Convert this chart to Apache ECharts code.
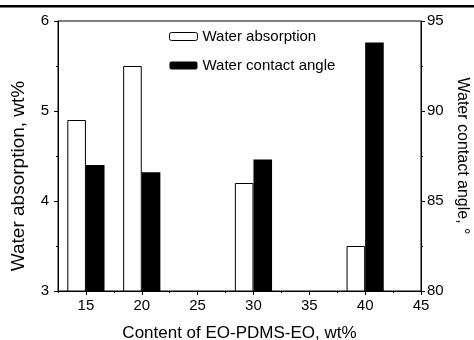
<!DOCTYPE html>
<html>
<head>
<meta charset="utf-8">
<script src="https://cdn.jsdelivr.net/npm/echarts@6/dist/echarts.min.js"></script>
<style>
  html, body { margin: 0; padding: 0; background: #fff; }
  #chart { width: 474px; height: 340px; }
</style>
</head>
<body>
<div id="chart"></div>
<script>
// EO-PDMS-EO content (wt%)
var contents = [15, 20, 30, 40];
// left axis: water absorption, wt%
var waterAbsorption = [4.9, 5.5, 4.2, 3.5];
// right axis: water contact angle, deg
var contactAngle = [87.0, 86.6, 87.3, 93.8];

var xMajorTicks = [15, 20, 25, 30, 35, 40, 45];
var xMinorTicks = [12.5, 17.5, 22.5, 27.5, 32.5, 37.5, 42.5];

var font = 'Liberation Sans, Arial, sans-serif';

var chart = echarts.init(document.getElementById('chart'));

var option = {
    animation: false,
    backgroundColor: '#fff',
    textStyle: { fontFamily: font, color: '#000' },
    graphic: [{
        type: 'rect',
        shape: { x: 0, y: 5, width: 474, height: 2.5 },
        style: { fill: '#000' }
    }],
    legend: {
        orient: 'vertical',
        left: 169,
        top: 29,
        padding: 0,
        itemWidth: 28,
        itemHeight: 8,
        itemGap: 14,
        textStyle: { fontSize: 15, color: '#000', fontFamily: font },
        data: [
            { name: 'Water absorption', itemStyle: { color: '#fff', borderColor: '#000', borderWidth: 1 } },
            { name: 'Water contact angle', itemStyle: { color: '#000' } }
        ]
    },
    grid: {
        left: 58, right: 53, top: 21, bottom: 49,
        outerBoundsMode: 'none',
        show: true, borderColor: '#000', borderWidth: 1, backgroundColor: 'transparent'
    },
    xAxis: [{
        type: 'value',
        min: 12.5,
        max: 45,
        name: 'Content of EO-PDMS-EO, wt%',
        nameLocation: 'middle',
        nameGap: 34,
        nameTextStyle: { fontSize: 17, color: '#000', fontFamily: font },
        axisLine: { lineStyle: { color: '#000', width: 1 } },
        axisTick: { show: true, length: 4, customValues: xMajorTicks, lineStyle: { color: '#000' } },
        axisLabel: { customValues: xMajorTicks, fontSize: 15, color: '#000', margin: 7, fontFamily: font },
        splitLine: { show: false }
    }, {
        type: 'value',
        min: 12.5,
        max: 45,
        position: 'bottom',
        axisLine: { show: false },
        axisTick: { show: true, length: 2, customValues: xMinorTicks, lineStyle: { color: '#000' } },
        axisLabel: { show: false },
        splitLine: { show: false }
    }],
    yAxis: [{
        type: 'value',
        min: 3,
        max: 6,
        interval: 1,
        name: 'Water absorption, wt%',
        nameLocation: 'middle',
        nameGap: 30,
        nameTextStyle: { fontSize: 19, color: '#000', fontFamily: font, padding: [0, 40, 0, 0] },
        axisLine: { show: true, lineStyle: { color: '#000', width: 1 } },
        axisTick: { show: true, length: 4, lineStyle: { color: '#000' } },
        minorTick: { show: true, splitNumber: 2, length: 2, lineStyle: { color: '#000' } },
        axisLabel: { fontSize: 15, color: '#000', margin: 9, fontFamily: font },
        splitLine: { show: false }
    }, {
        type: 'value',
        min: 80,
        max: 95,
        interval: 5,
        position: 'right',
        name: 'Water contact angle, \u00b0',
        nameLocation: 'middle',
        nameRotate: -90,
        nameGap: 31,
        nameTextStyle: { fontSize: 16, color: '#000', fontFamily: font },
        axisLine: { show: true, lineStyle: { color: '#000', width: 1 } },
        axisTick: { show: true, length: 4, lineStyle: { color: '#000' } },
        minorTick: { show: true, splitNumber: 2, length: 2, lineStyle: { color: '#000' } },
        axisLabel: { fontSize: 15, color: '#000', margin: 6, fontFamily: font },
        splitLine: { show: false }
    }],
    series: [{
        name: 'Water absorption',
        type: 'bar',
        xAxisIndex: 0,
        yAxisIndex: 0,
        barWidth: 18.6,
        barGap: '0%',
        itemStyle: { color: '#fff', borderColor: '#000', borderWidth: 1 },
        data: contents.map(function (c, i) { return [c, waterAbsorption[i]]; })
    }, {
        name: 'Water contact angle',
        type: 'bar',
        xAxisIndex: 0,
        yAxisIndex: 1,
        barWidth: 18.6,
        barGap: '0%',
        itemStyle: { color: '#000' },
        data: contents.map(function (c, i) { return [c, contactAngle[i]]; })
    }]
};

chart.setOption(option);
</script>
</body>
</html>
